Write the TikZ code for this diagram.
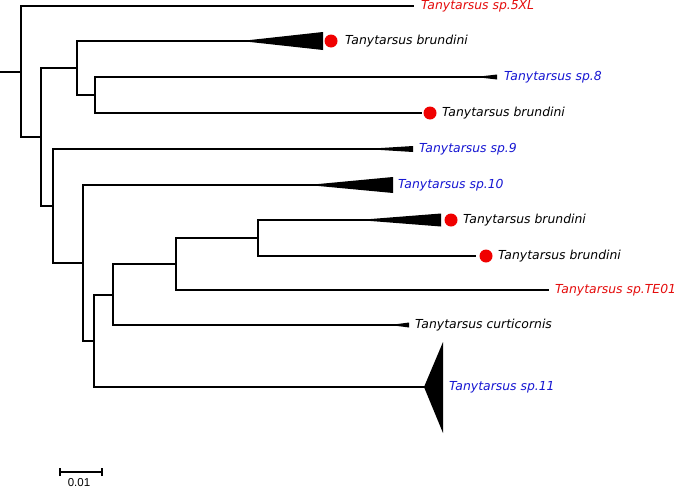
\documentclass[tikz,border=0pt]{standalone}
\usepackage{fontspec}
\setmainfont{DejaVu Sans}
\newfontfamily\scalebarfont{Liberation Sans}
\definecolor{tred}{RGB}{228,12,12}
\definecolor{tblue}{RGB}{22,22,210}
\definecolor{dotred}{RGB}{240,0,0}
\begin{document}
\begin{tikzpicture}[x=1pt,y=-1pt,
  br/.style={line width=2pt, line cap=rect, line join=miter},
  clade/.style={fill=black, draw=none},
  taxon/.style={anchor=west, inner sep=0pt, font=\itshape\fontsize{12.4}{14}\selectfont},
  redtx/.style={taxon, text=tred},
  bluetx/.style={taxon, text=tblue},
  blacktx/.style={taxon, text=black},
  tdot/.style={circle, fill=dotred, inner sep=0pt, minimum size=13pt}]
\useasboundingbox (0,0) rectangle (676,490);
% internal vertices
\coordinate (s) at (0,71.5);
\coordinate (r) at (21,71.5);
\coordinate (A) at (41,137);
\coordinate (B) at (77,68);
\coordinate (C) at (95,95);
\coordinate (D) at (53,205.5);
\coordinate (E) at (83,262.5);
\coordinate (F) at (94,340.5);
\coordinate (G) at (113,294.5);
\coordinate (H) at (176,264);
\coordinate (I) at (258,238);
% tips
\coordinate (t5xl) at (413,6);
\coordinate (tb1) at (300,41);
\coordinate (t8) at (490,77);
\coordinate (tb2) at (421,113);
\coordinate (t9) at (400,149);
\coordinate (t10) at (360,185);
\coordinate (tb3) at (420,220);
\coordinate (tb4) at (475,256);
\coordinate (tte) at (548,290);
\coordinate (tcu) at (400,325);
\coordinate (t11) at (430,387);
% branches
\draw[br] (s) -- (r);
\draw[br] (r) |- (t5xl);
\draw[br] (r) |- (A);
\draw[br] (A) |- (B);
\draw[br] (A) |- (D);
\draw[br] (B) |- (tb1);
\draw[br] (B) |- (C);
\draw[br] (C) |- (t8);
\draw[br] (C) |- (tb2);
\draw[br] (D) |- (t9);
\draw[br] (D) |- (E);
\draw[br] (E) |- (t10);
\draw[br] (E) |- (F);
\draw[br] (F) |- (G);
\draw[br] (F) |- (t11);
\draw[br] (G) |- (H);
\draw[br] (G) |- (tcu);
\draw[br] (H) |- (I);
\draw[br] (H) |- (tte);
\draw[br] (I) |- (tb3);
\draw[br] (I) |- (tb4);
% collapsed clades
\fill[clade] (241,41) -- (323,32) -- (323,50) -- cycle;
\fill[clade] (484,76) -- (497,74.5) -- (497,79.5) -- (484,78) -- cycle;
\fill[clade] (365,149) -- (413,146) -- (413,152) -- cycle;
\fill[clade] (308,185) -- (393,177) -- (393,193) -- cycle;
\fill[clade] (358,220) -- (441,213.5) -- (441,226.5) -- cycle;
\fill[clade] (390,325) -- (409,322.5) -- (409,327.5) -- cycle;
\fill[clade] (424,387) -- (443,342) -- (443,433) -- cycle;
% dots
\node[tdot] (d1) at (331,41) {};
\node[tdot] (d2) at (430,113) {};
\node[tdot] (d3) at (451,220) {};
\node[tdot] (d4) at (486,256) {};
% labels
\node[redtx] (l5xl) at (421,6.5) {Tanytarsus sp.5XL};
\node[blacktx] (lb1) at (345,41) {Tanytarsus brundini};
\node[bluetx] (l8) at (504,77) {Tanytarsus sp.8};
\node[blacktx] (lb2) at (442,113) {Tanytarsus brundini};
\node[bluetx] (l9) at (419,149) {Tanytarsus sp.9};
\node[bluetx] (l10) at (398,185) {Tanytarsus sp.10};
\node[blacktx] (lb3) at (463,220) {Tanytarsus brundini};
\node[blacktx] (lb4) at (498,256) {Tanytarsus brundini};
\node[redtx] (lte) at (555,290) {Tanytarsus sp.TE01};
\node[blacktx] (lcu) at (415,325) {Tanytarsus curticornis};
\node[bluetx] (l11) at (449,387) {Tanytarsus sp.11};
% scale bar
\coordinate (sb1) at (60,472);
\coordinate (sb2) at (102,472);
\draw[line width=1.8pt] (sb1) -- (sb2);
\draw[line width=1.8pt] ([yshift=-4pt]sb1) -- ([yshift=4pt]sb1);
\draw[line width=1.8pt] ([yshift=-4pt]sb2) -- ([yshift=4pt]sb2);
\node[inner sep=0pt, font=\scalebarfont\fontsize{11.5}{12}\selectfont] (sbl) at (79,482.5) {0.01};
\end{tikzpicture}
\end{document}
